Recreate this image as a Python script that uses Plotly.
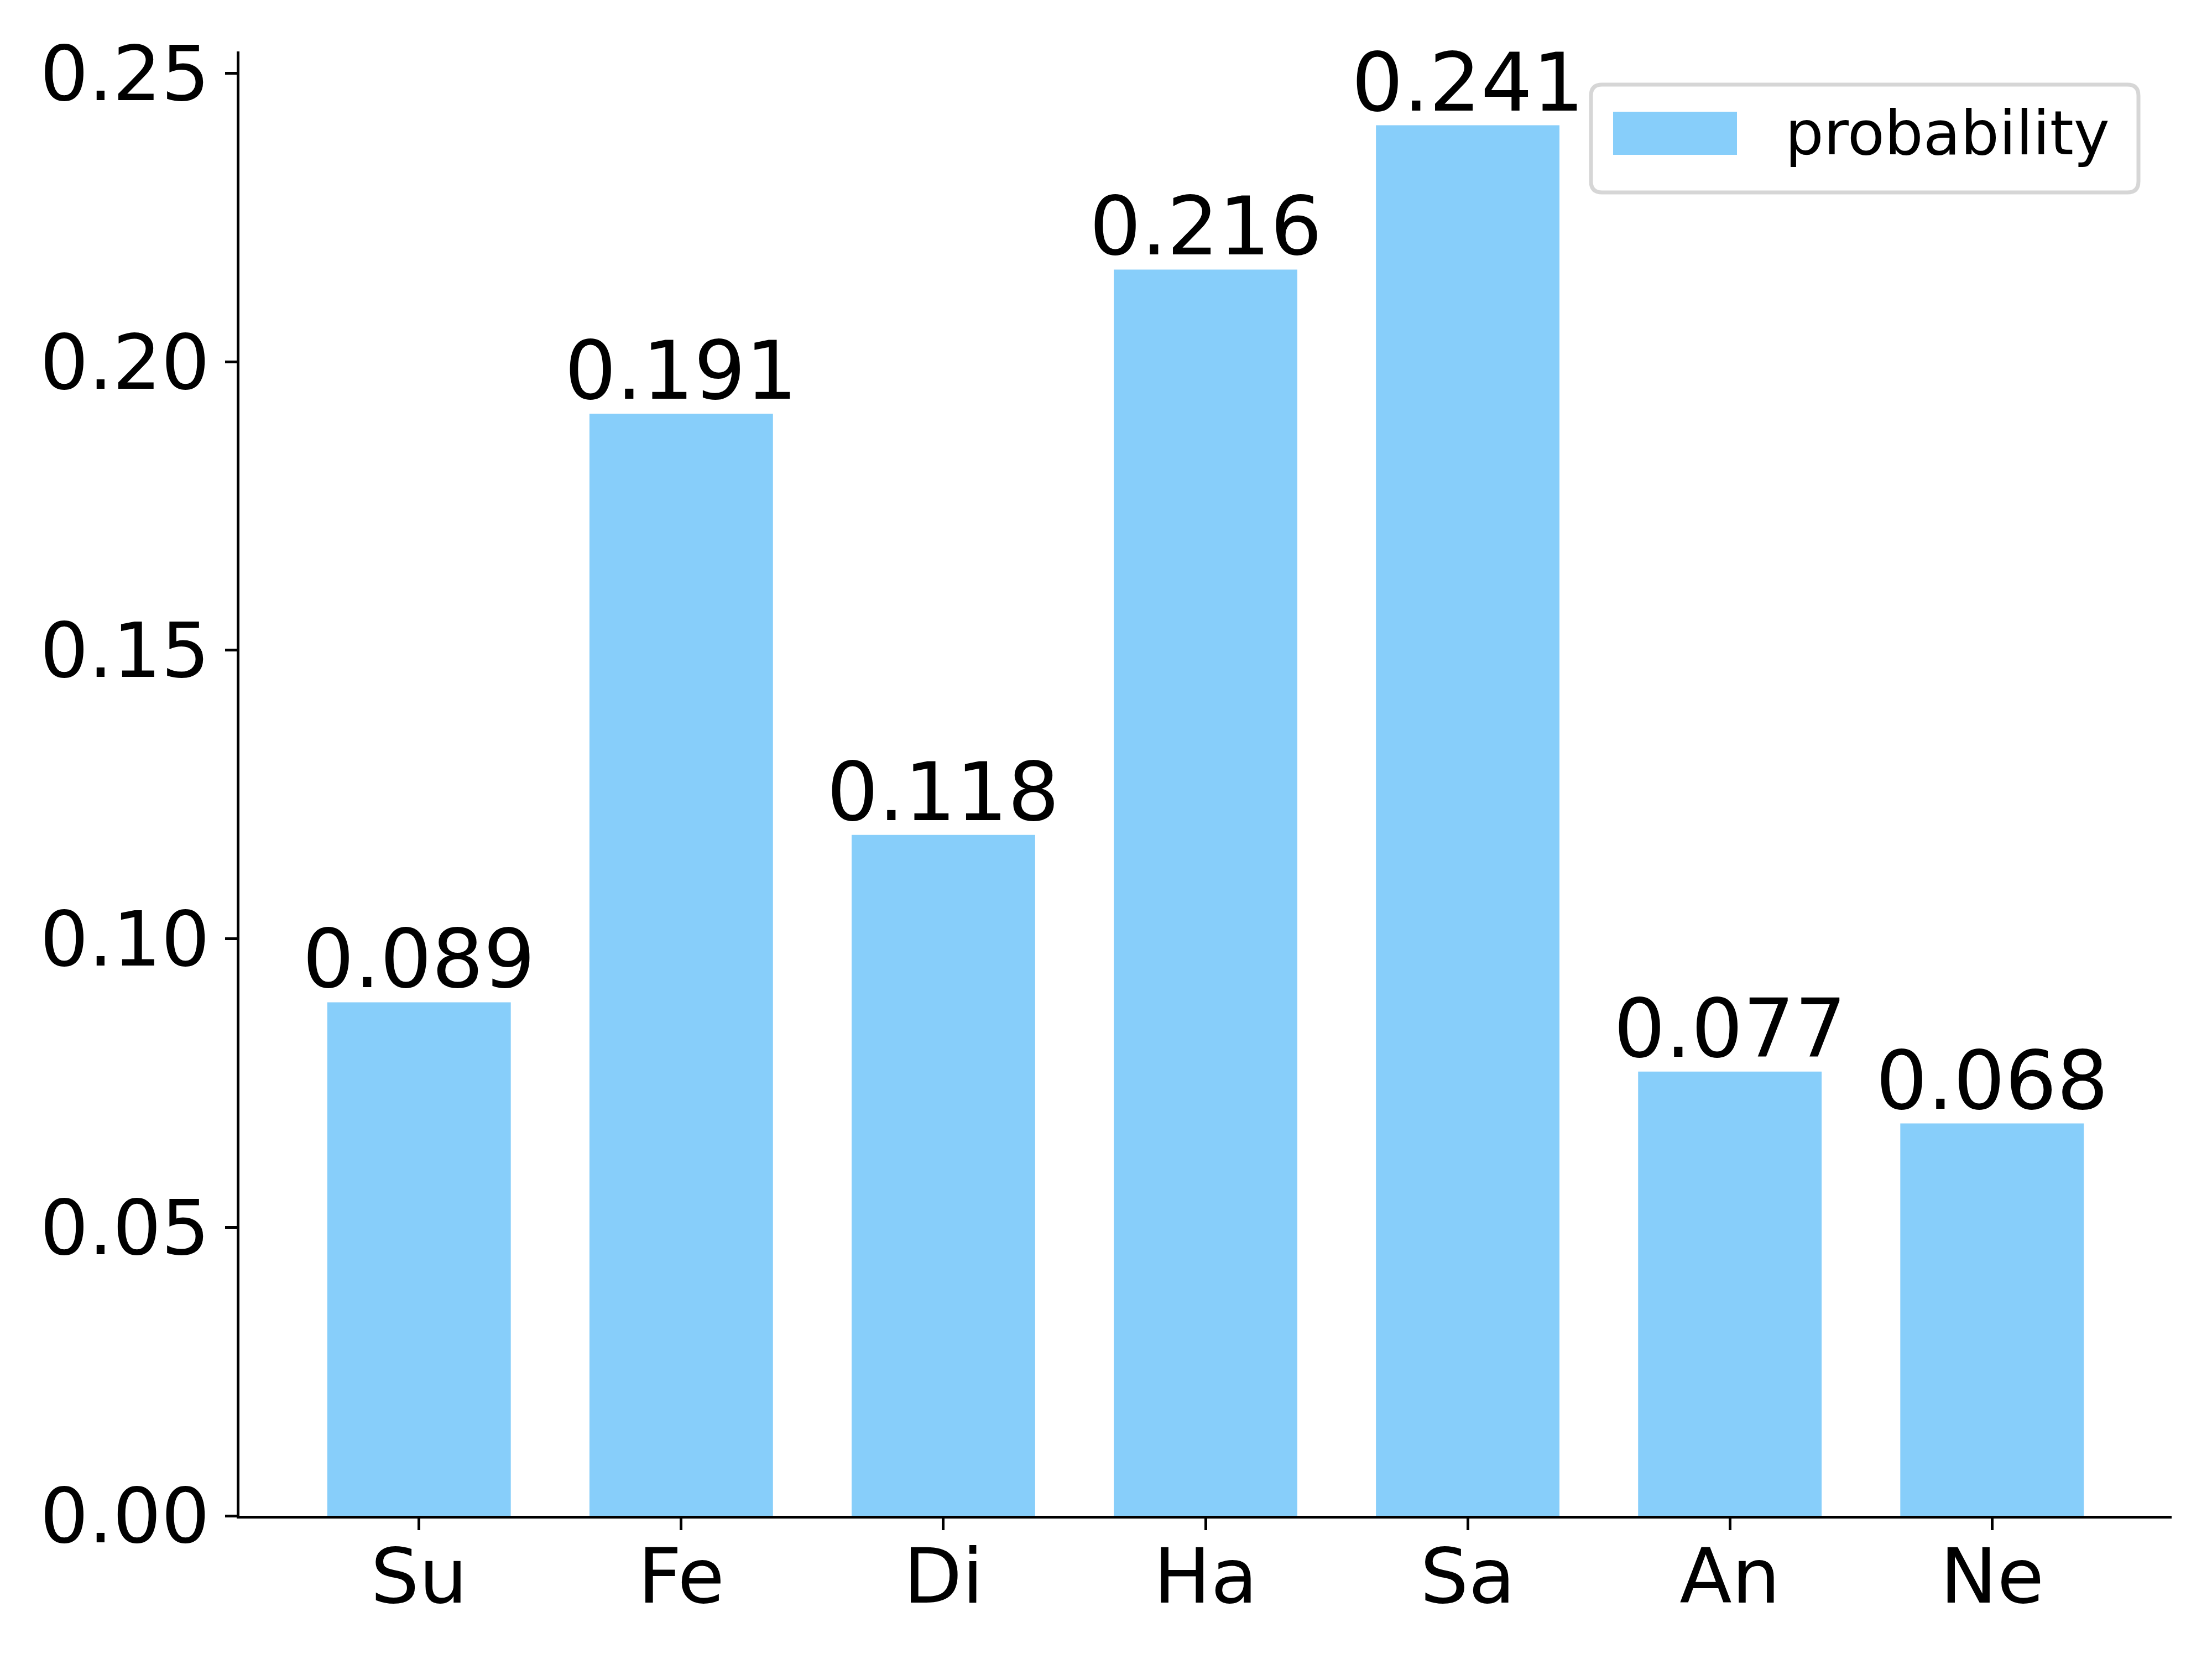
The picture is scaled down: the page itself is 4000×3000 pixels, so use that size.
import plotly.graph_objects as go

categories = ["Su", "Fe", "Di", "Ha", "Sa", "An", "Ne"]
values = [0.089, 0.191, 0.118, 0.216, 0.241, 0.077, 0.068]
series_name = "probability"
ytick_vals = [0.0, 0.05, 0.10, 0.15, 0.20, 0.25]
ytick_text = ["0.00", "0.05", "0.10", "0.15", "0.20", "0.25"]

W, H = 4000, 3000
L, R, T, B = 433, 3927, 93, 2741  # plot area in pixels
FONT = "DejaVu Sans"
BAR_COLOR = "#87CEFA"


def px_x(p):
    return (p - L) / (R - L)


def px_y(p):
    return (B - p) / (B - T)


fig = go.Figure(
    go.Bar(
        x=categories,
        y=values,
        width=0.7,
        marker=dict(color=BAR_COLOR, line=dict(width=0)),
        name=series_name,
        showlegend=False,
    )
)

# value labels above bars
for c, v in zip(categories, values):
    fig.add_annotation(
        x=c, y=v, xref="x", yref="y", text=f"{v:.3f}", showarrow=False,
        xanchor="center", yanchor="bottom", yshift=-10,
        font=dict(family=FONT, size=147, color="black"),
    )

# custom legend (matplotlib-like rounded frame)
lx0, lx1, ly0, ly1 = 2877, 3867, 153, 348
rad = 20
x0, x1 = px_x(lx0), px_x(lx1)
y0, y1 = px_y(ly1), px_y(ly0)
rx = rad / (R - L)
ry = rad / (B - T)
path = (
    f"M {x0+rx},{y1} L {x1-rx},{y1} Q {x1},{y1} {x1},{y1-ry} "
    f"L {x1},{y0+ry} Q {x1},{y0} {x1-rx},{y0} "
    f"L {x0+rx},{y0} Q {x0},{y0} {x0},{y0+ry} "
    f"L {x0},{y1-ry} Q {x0},{y1} {x0+rx},{y1} Z"
)
fig.add_shape(type="path", path=path, xref="paper", yref="paper",
              line=dict(color="#d6d6d6", width=7), fillcolor="white", layer="above")
fig.add_shape(type="rect", xref="paper", yref="paper",
              x0=px_x(2917), x1=px_x(3141), y0=px_y(280), y1=px_y(202),
              line=dict(width=0), fillcolor=BAR_COLOR, layer="above")
fig.add_annotation(
    x=px_x(3226), y=px_y(307), xref="paper", yref="paper", text=series_name,
    showarrow=False, xanchor="left", yanchor="bottom",
    font=dict(family=FONT, size=110, color="black"),
)

axis_common = dict(
    showline=True, linecolor="black", linewidth=5,
    ticks="outside", ticklen=21, tickwidth=5, tickcolor="black",
    tickfont=dict(family=FONT, size=138, color="black"),
    showgrid=False, zeroline=False, automargin=False,
)

fig.update_layout(
    template="none",
    width=W, height=H,
    margin=dict(l=L, r=W - R, t=T, b=H - B, pad=0),
    paper_bgcolor="white", plot_bgcolor="white",
    showlegend=False,
    bargap=0.3,
    xaxis=dict(**axis_common, range=[-0.685, 6.685], ticklabelstandoff=-35),
    yaxis=dict(**axis_common, range=[0, 0.2538], tickvals=ytick_vals, ticktext=ytick_text),
)

fig.write_html("out.html", config={"displayModeBar": False})

# remove the default page margin so the figure sits at the window origin
with open("out.html", "r", encoding="utf-8") as f:
    html = f.read()
html = html.replace("<body>", '<body style="margin:0;padding:0;">', 1)
with open("out.html", "w", encoding="utf-8") as f:
    f.write(html)
